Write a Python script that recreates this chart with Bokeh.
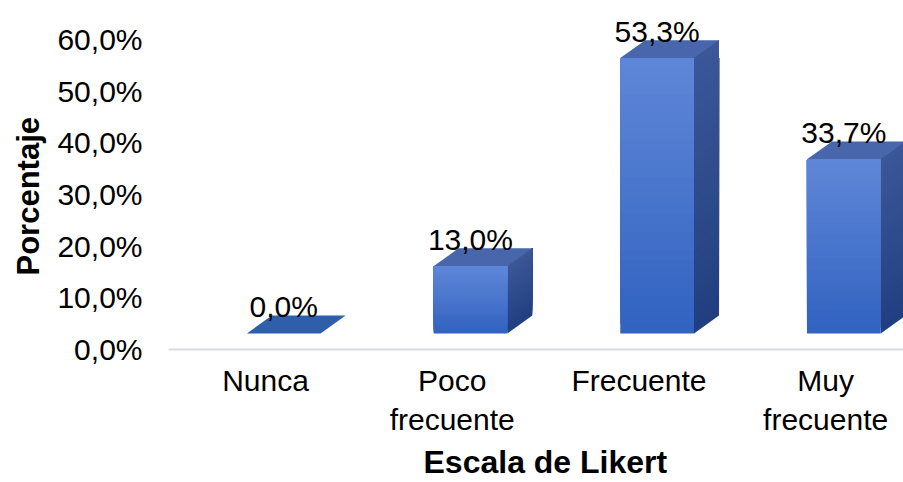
from bokeh.plotting import figure
from bokeh.models import Range1d, FixedTicker, ColumnDataSource, Title
from bokeh.core.properties import value
from bokeh.embed import file_html
from bokeh.resources import INLINE

# ---- data ----
categories = ["Nunca", "Poco\nfrecuente", "Frecuente", "Muy\nfrecuente"]
percentages = [0.0, 13.0, 53.3, 33.7]
value_labels = ["0,0%", "13,0%", "53,3%", "33,7%"]
y_ticks = [0, 10, 20, 30, 40, 50, 60]
y_tick_labels = ["0,0%", "10,0%", "20,0%", "30,0%", "40,0%", "50,0%", "60,0%"]
x_title = "Escala de Likert"
y_title = "Porcentaje"

# ---- style (3D look) ----
FONT = "Liberation Sans"
front_left = -0.10      # front face left edge relative to category centre
front_right = 0.295     # front face right edge
depth_x = 0.134         # depth offset in x units
depth_y = 3.48          # depth offset in y units
base = 3.1              # front face base above floor
N_STEPS = 30            # gradient steps

X0, X1 = -0.5196, 3.417
Y0, Y1 = 0, 67.55


def lerp_color(c0, c1, f):
    a = [int(c0[i:i + 2], 16) for i in (1, 3, 5)]
    b = [int(c1[i:i + 2], 16) for i in (1, 3, 5)]
    return "#%02x%02x%02x" % tuple(round(x + (y - x) * f) for x, y in zip(a, b))


FRONT_BOTTOM, FRONT_TOP = "#3162c0", "#5f87d8"
SIDE_BOTTOM, SIDE_TOP = "#213f80", "#3c5797"

p = figure(width=903, height=482, output_backend="svg", toolbar_location=None,
           x_range=Range1d(X0, X1), y_range=Range1d(Y0, Y1),
           min_border_left=168, min_border_right=0, min_border_top=0,
           min_border_bottom=133)
p.outline_line_color = None
p.background_fill_color = "white"
p.xgrid.visible = False
p.ygrid.visible = False

xs_idx = list(range(len(categories)))
fl, fr, ft = [], [], []
top_xs, top_ys, top_colors = [], [], []
sl_l, sl_r, sl_b, sl_t, sl_c = [], [], [], [], []
sd_xs, sd_ys, sd_c = [], [], []
for i, v in zip(xs_idx, percentages):
    l = i + front_left
    r = i + front_right
    b = base
    t = base + v
    fl.append(l); fr.append(r); ft.append(t)
    top_xs.append([l, r, r + depth_x, l + depth_x])
    top_ys.append([t, t, t + depth_y, t + depth_y])
    top_colors.append("#2f5eab" if v == 0 else "#4766ab")
    if v > 0:
        # layered gradient: each layer runs from its start up to the bar top,
        # drawn bottom-first, so later layers cover the earlier ones (no seams)
        for k in range(N_STEPS):
            y0 = b + v * k / N_STEPS
            f = (k + 0.5) / N_STEPS
            sl_l.append(l); sl_r.append(r); sl_b.append(y0); sl_t.append(t)
            sl_c.append(lerp_color(FRONT_BOTTOM, FRONT_TOP, f))
            sd_xs.append([r, r + depth_x, r + depth_x, r])
            sd_ys.append([y0, y0 + depth_y, t + depth_y, t])
            sd_c.append(lerp_color(SIDE_BOTTOM, SIDE_TOP, f))

p.patches(sd_xs, sd_ys, fill_color=sd_c, line_color=None)
p.patches(top_xs, top_ys, fill_color=top_colors, line_color=None)
p.quad(left=sl_l, right=sl_r, bottom=sl_b, top=sl_t, fill_color=sl_c, line_color=None)

lbl_src = ColumnDataSource(dict(x=[(a + b) / 2 for a, b in zip(fl, fr)], y=ft, t=value_labels))
p.text(x="x", y="y", text="t", source=lbl_src, text_font=value(FONT),
       text_font_size="30px", text_align="center", text_baseline="alphabetic",
       y_offset=-27, text_color="#000000")

# y axis
p.yaxis.ticker = FixedTicker(ticks=y_ticks)
p.yaxis.major_label_overrides = {t: l for t, l in zip(y_ticks, y_tick_labels)}
p.yaxis.major_label_text_font = FONT
p.yaxis.major_label_text_font_size = "30px"
p.yaxis.major_label_text_color = "#000000"
p.yaxis.major_label_standoff = 20
p.yaxis.axis_line_color = None
p.yaxis.major_tick_line_color = None
p.yaxis.minor_tick_line_color = None

# x axis
p.xaxis.ticker = FixedTicker(ticks=xs_idx)
p.xaxis.major_label_overrides = {i: c for i, c in zip(xs_idx, categories)}
p.xaxis.major_label_text_font = FONT
p.xaxis.major_label_text_font_size = "30px"
p.xaxis.major_label_text_color = "#000000"
p.xaxis.major_label_standoff = 8
p.xaxis.axis_line_color = "#d9dce1"
p.xaxis.axis_line_width = 2
p.xaxis.major_tick_line_color = None
p.xaxis.minor_tick_line_color = None

# axis titles as side titles (allow off-centre placement like the reference)
p.add_layout(Title(text=x_title, align="left", offset=255, standoff=5,
                   text_font=FONT, text_font_size="32px", text_font_style="bold",
                   text_color="#000000"), "below")
p.add_layout(Title(text=y_title, align="left", offset=74, standoff=14,
                   vertical_align="top",
                   text_font=FONT, text_font_size="31px", text_font_style="bold",
                   text_color="#000000"), "left")

open("out.html", "w").write(file_html(p, INLINE))
